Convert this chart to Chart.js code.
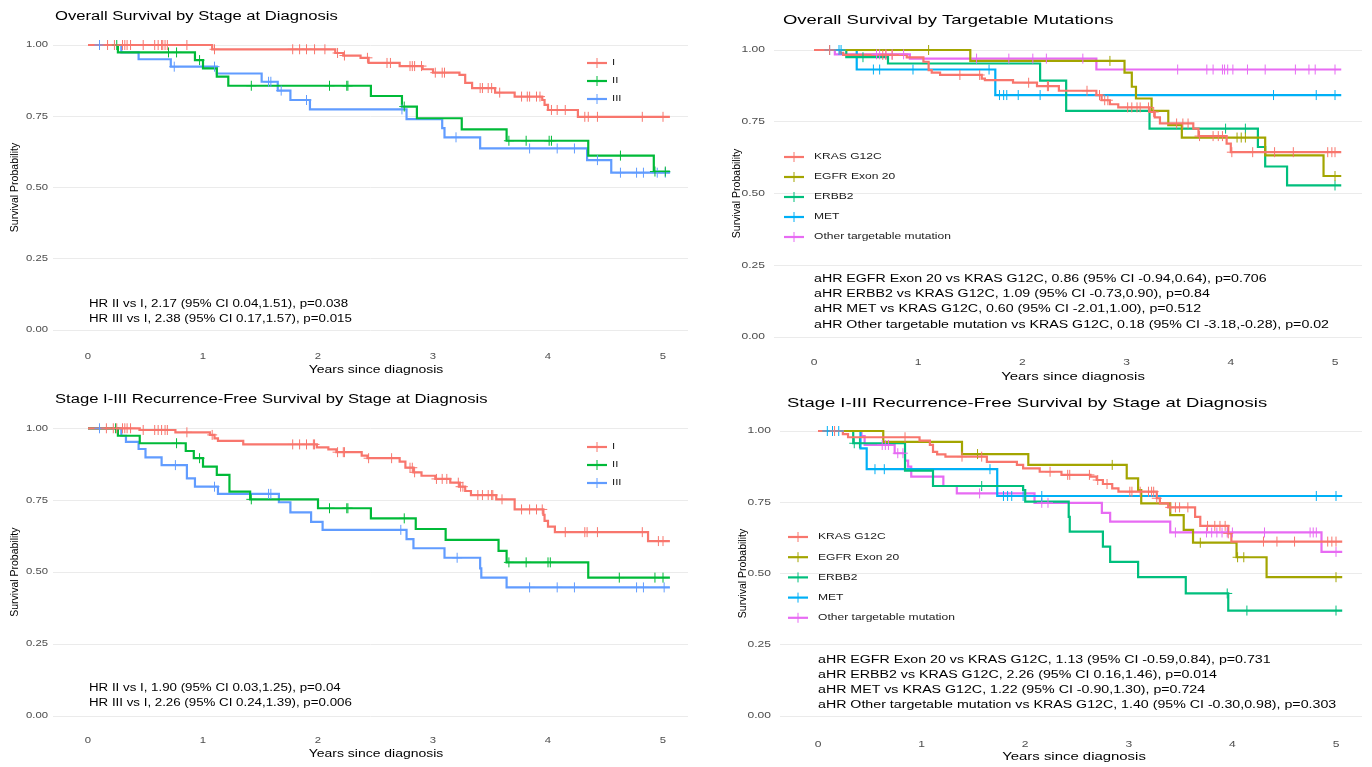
<!DOCTYPE html>
<html><head><meta charset="utf-8">
<script src="https://cdn.jsdelivr.net/npm/chart.js@4.4.1/dist/chart.umd.min.js"></script>
<style>
html,body{margin:0;padding:0;background:#fff;width:1372px;height:767px;overflow:hidden;}
canvas{position:absolute;}
</style></head><body>
<canvas id="c1"></canvas><canvas id="c2"></canvas><canvas id="c3"></canvas><canvas id="c4"></canvas>
<script>
// ---------------- DATA ----------------
const stageLabels = ['I', 'II', 'III'];
const mutLabels = ['KRAS G12C', 'EGFR Exon 20', 'ERBB2', 'MET', 'Other targetable mutation'];
const xTicks = [0, 1, 2, 3, 4, 5];
const xTickLabels = ['0', '1', '2', '3', '4', '5'];
const yTicks = [0, 0.25, 0.5, 0.75, 1];
const yTickLabels = ['0.00', '0.25', '0.50', '0.75', '1.00'];

// Panel 1: Overall survival by stage
const p1I_t = [0, 1.08, 2.15, 2.22, 2.37, 2.44, 2.71, 2.91, 3.0, 3.23, 3.28, 3.34, 3.54, 3.71, 3.95, 3.97, 4.0, 4.26, 5.06];
const p1I_s = [1, 0.985, 0.972, 0.963, 0.955, 0.937, 0.926, 0.915, 0.903, 0.895, 0.867, 0.849, 0.833, 0.819, 0.807, 0.79, 0.772, 0.748, 0.748];
const p1I_c = [0.17, 0.23, 0.3, 0.32, 0.34, 0.37, 0.48, 0.58, 0.61, 0.64, 0.65, 0.67, 0.69, 0.86, 1.1, 1.78, 1.84, 1.9, 1.97, 2.06, 2.17, 2.23, 2.43, 2.6, 2.63, 2.8, 2.82, 2.84, 2.9, 3.02, 3.08, 3.1, 3.41, 3.43, 3.48, 3.51, 3.58, 3.77, 3.82, 3.84, 3.9, 3.93, 4.03, 4.08, 4.15, 4.32, 4.35, 4.43, 4.82, 5.0];
const p1II_t = [0, 0.26, 0.93, 1.0, 1.12, 1.22, 2.46, 2.73, 2.86, 3.25, 3.64, 4.35, 4.92, 5.06];
const p1II_s = [1, 0.974, 0.947, 0.918, 0.889, 0.857, 0.821, 0.784, 0.743, 0.704, 0.664, 0.612, 0.556, 0.556];
const p1II_c = [0.25, 0.7, 0.77, 0.97, 1.42, 2.1, 2.25, 2.26, 2.75, 3.66, 3.81, 4.01, 4.03, 4.63, 4.93, 5.02];
const p1III_t = [0, 0.29, 0.44, 0.72, 1.12, 1.51, 1.65, 1.76, 1.93, 2.77, 3.08, 3.1, 3.41, 4.34, 4.55, 5.06];
const p1III_s = [1, 0.974, 0.95, 0.924, 0.9, 0.871, 0.84, 0.807, 0.774, 0.74, 0.708, 0.676, 0.637, 0.596, 0.552, 0.552];
const p1III_c = [0.1, 0.75, 1.1, 1.57, 1.59, 1.68, 1.9, 2.73, 3.2, 3.84, 4.08, 4.23, 4.43, 4.63, 4.77, 4.83, 4.95, 5.02];

// Panel 2: Overall survival by targetable mutation
const p2KRAS_t = [0, 0.25, 0.28, 0.89, 1.05, 1.1, 1.13, 1.21, 1.61, 1.64, 1.91, 2.14, 2.35, 2.71, 2.76, 2.84, 2.92, 3.22, 3.27, 3.32, 3.64, 3.69, 3.96, 4.0, 5.06];
const p2KRAS_s = [1, 0.99, 0.983, 0.974, 0.959, 0.93, 0.921, 0.913, 0.9, 0.895, 0.886, 0.874, 0.858, 0.843, 0.825, 0.811, 0.8, 0.784, 0.765, 0.744, 0.726, 0.7, 0.674, 0.644, 0.644];
const p2KRAS_c = [0.15, 0.66, 0.69, 0.75, 1.4, 1.59, 2.06, 2.24, 2.25, 2.62, 2.74, 2.79, 2.82, 3.01, 3.05, 3.1, 3.13, 3.21, 3.26, 3.48, 3.54, 3.59, 3.7, 3.83, 3.88, 3.92, 4.01, 4.21, 4.42, 4.6, 4.93, 4.97, 5.0];
const p2EGFR_t = [0, 1.5, 2.98, 3.05, 3.09, 3.24, 3.4, 3.53, 4.33, 4.89, 5.06];
const p2EGFR_s = [1, 0.962, 0.921, 0.872, 0.831, 0.788, 0.738, 0.695, 0.633, 0.561, 0.561];
const p2EGFR_c = [1.1, 2.84, 4.06, 4.1, 4.14, 5.0];
const p2ERBB2_t = [0, 0.31, 0.71, 2.17, 2.42, 3.22, 4.26, 4.33, 4.54, 5.06];
const p2ERBB2_s = [1, 0.975, 0.953, 0.893, 0.788, 0.726, 0.662, 0.594, 0.528, 0.528];
const p2ERBB2_c = [0.47, 3.95, 4.14, 5.0];
const p2MET_t = [0, 0.41, 1.74, 5.06];
const p2MET_s = [1, 0.932, 0.843, 0.843];
const p2MET_c = [0.15, 0.24, 0.26, 0.57, 0.63, 0.95, 1.68, 1.78, 1.82, 1.85, 1.96, 2.17, 4.41, 4.82, 5.0];
const p2OTH_t = [0, 0.2, 0.92, 2.71, 5.06];
const p2OTH_s = [1, 0.985, 0.97, 0.932, 0.932];
const p2OTH_c = [0.6, 0.63, 0.69, 0.75, 0.86, 1.56, 1.87, 2.1, 2.23, 2.58, 3.49, 3.77, 3.83, 3.92, 3.94, 3.97, 4.02, 4.16, 4.33, 4.62, 4.75, 4.81, 5.0];

// Panel 3: Recurrence-free survival by stage
const p3I_t = [0, 0.45, 0.76, 1.06, 1.1, 1.13, 1.35, 1.99, 2.09, 2.16, 2.38, 2.43, 2.71, 2.76, 2.83, 2.9, 3.02, 3.15, 3.23, 3.28, 3.33, 3.55, 3.71, 3.96, 3.97, 4.0, 4.06, 4.87, 5.06];
const p3I_s = [1, 0.994, 0.986, 0.977, 0.965, 0.956, 0.944, 0.934, 0.927, 0.917, 0.905, 0.896, 0.884, 0.863, 0.847, 0.835, 0.824, 0.811, 0.797, 0.782, 0.768, 0.753, 0.718, 0.699, 0.678, 0.658, 0.639, 0.608, 0.608];
const p3I_c = [0.16, 0.22, 0.25, 0.3, 0.32, 0.34, 0.37, 0.48, 0.58, 0.61, 0.64, 0.67, 0.69, 0.86, 1.08, 1.78, 1.84, 1.9, 1.96, 1.97, 2.17, 2.22, 2.23, 2.44, 2.64, 2.8, 2.82, 2.84, 3.03, 3.08, 3.12, 3.22, 3.24, 3.26, 3.39, 3.43, 3.48, 3.51, 3.52, 3.6, 3.77, 3.84, 3.9, 3.95, 4.15, 4.32, 4.34, 4.43, 4.82, 4.96, 5.0];
const p3II_t = [0, 0.26, 0.45, 0.85, 0.92, 1.0, 1.12, 1.23, 1.41, 2.0, 2.46, 2.85, 3.11, 3.57, 3.64, 4.35, 5.06];
const p3II_s = [1, 0.974, 0.948, 0.921, 0.896, 0.867, 0.838, 0.78, 0.753, 0.722, 0.687, 0.65, 0.612, 0.574, 0.534, 0.481, 0.481];
const p3II_c = [0.24, 0.77, 0.97, 1.42, 2.1, 2.25, 2.26, 2.75, 3.66, 3.81, 4.0, 4.02, 4.62, 4.93, 5.0];
const p3III_t = [0, 0.29, 0.33, 0.44, 0.5, 0.64, 0.86, 0.93, 1.13, 1.66, 1.76, 1.94, 2.04, 2.77, 2.83, 3.1, 3.41, 3.42, 3.64, 5.06];
const p3III_s = [1, 0.974, 0.953, 0.928, 0.899, 0.872, 0.826, 0.797, 0.772, 0.743, 0.708, 0.675, 0.647, 0.615, 0.583, 0.55, 0.513, 0.481, 0.447, 0.447];
const p3III_c = [0.1, 0.76, 1.1, 1.57, 1.59, 2.72, 3.21, 3.84, 4.08, 4.23, 4.77, 4.83, 5.01];

// Panel 4: Recurrence-free survival by targetable mutation
const p4KRAS_t = [0, 0.24, 0.29, 0.98, 1.08, 1.11, 1.15, 1.23, 1.63, 1.92, 1.98, 2.14, 2.35, 2.63, 2.69, 2.75, 2.84, 2.9, 3.27, 3.3, 3.38, 3.64, 3.69, 3.96, 3.99, 5.06];
const p4KRAS_s = [1, 0.989, 0.978, 0.966, 0.951, 0.927, 0.918, 0.91, 0.892, 0.881, 0.869, 0.857, 0.846, 0.84, 0.828, 0.814, 0.799, 0.787, 0.764, 0.746, 0.732, 0.699, 0.667, 0.641, 0.612, 0.612];
const p4KRAS_c = [0.16, 0.84, 1.39, 1.58, 2.24, 2.41, 2.43, 2.62, 2.7, 2.79, 3.01, 3.03, 3.11, 3.19, 3.22, 3.24, 3.27, 3.4, 3.45, 3.49, 3.57, 3.76, 3.83, 3.88, 3.93, 3.96, 4.3, 4.43, 4.6, 4.92, 4.96, 5.0];
const p4EGFR_t = [0, 0.63, 1.39, 2.03, 2.98, 3.09, 3.12, 3.4, 3.53, 3.62, 4.04, 4.33, 5.06];
const p4EGFR_s = [1, 0.962, 0.919, 0.881, 0.834, 0.793, 0.746, 0.705, 0.653, 0.608, 0.557, 0.487, 0.487];
const p4EGFR_c = [1.54, 2.84, 3.69, 4.05, 4.11, 5.0];
const p4ERBB2_t = [0, 0.34, 0.84, 1.11, 1.98, 2.0, 2.42, 2.43, 2.75, 2.82, 3.09, 3.55, 3.96, 5.06];
const p4ERBB2_s = [1, 0.957, 0.861, 0.807, 0.793, 0.752, 0.699, 0.647, 0.594, 0.541, 0.487, 0.43, 0.37, 0.37];
const p4ERBB2_c = [0.35, 0.4, 1.58, 3.95, 4.14, 5.0];
const p4MET_t = [0, 0.41, 0.47, 1.73, 5.06];
const p4MET_s = [1, 0.939, 0.866, 0.772, 0.772];
const p4MET_c = [0.09, 0.14, 0.2, 0.55, 0.64, 1.66, 1.79, 1.83, 1.87, 1.98, 2.16, 4.81, 5.0];
const p4OTH_t = [0, 0.42, 0.45, 0.74, 0.84, 0.87, 0.9, 1.21, 1.34, 2.09, 2.74, 2.82, 3.4, 4.86, 5.06];
const p4OTH_s = [1, 0.982, 0.951, 0.922, 0.896, 0.875, 0.84, 0.807, 0.781, 0.748, 0.713, 0.682, 0.644, 0.576, 0.576];
const p4OTH_c = [0.62, 0.65, 0.68, 0.77, 0.82, 1.56, 2.16, 2.22, 3.45, 3.75, 3.8, 3.85, 3.9, 3.95, 4.0, 4.31, 4.75, 4.78, 4.81, 5.0];

// Texts
const titles = [
  'Overall Survival by Stage at Diagnosis',
  'Overall Survival by Targetable Mutations',
  'Stage I-III Recurrence-Free Survival by Stage at Diagnosis',
  'Stage I-III Recurrence-Free Survival by Stage at Diagnosis'
];
const p1Annot = ['HR II vs I, 2.17 (95% CI 0.04,1.51), p=0.038', 'HR III vs I, 2.38 (95% CI 0.17,1.57), p=0.015'];
const p2Annot = ['aHR EGFR Exon 20 vs KRAS G12C, 0.86 (95% CI -0.94,0.64), p=0.706', 'aHR ERBB2 vs KRAS G12C, 1.09 (95% CI -0.73,0.90), p=0.84', 'aHR MET vs KRAS G12C, 0.60 (95% CI -2.01,1.00), p=0.512', 'aHR Other targetable mutation vs KRAS G12C, 0.18 (95% CI -3.18,-0.28), p=0.02'];
const p3Annot = ['HR II vs I, 1.90 (95% CI 0.03,1.25), p=0.04', 'HR III vs I, 2.26 (95% CI 0.24,1.39), p=0.006'];
const p4Annot = ['aHR EGFR Exon 20 vs KRAS G12C, 1.13 (95% CI -0.59,0.84), p=0.731', 'aHR ERBB2 vs KRAS G12C, 2.26 (95% CI 0.16,1.46), p=0.014', 'aHR MET vs KRAS G12C, 1.22 (95% CI -0.90,1.30), p=0.724', 'aHR Other targetable mutation vs KRAS G12C, 1.40 (95% CI -0.30,0.98), p=0.303'];
const xTitle = 'Years since diagnosis';
const yTitle = 'Survival Probability';

// ---------------- STYLE / LAYOUT ----------------
const COL3 = ['#F8766D', '#00BA38', '#619CFF'];
const COL5 = ['#F8766D', '#A3A500', '#00BF7D', '#00B0F6', '#E76BF3'];
const FONT = '"Liberation Sans", Arial, Helvetica, sans-serif';

const panels = [
  { id: 'c1', L: 0, T: 0, W: 720, H: 383, area: { l: 53, r: 688, t: 30.75, b: 344.25 }, x0: 88, ppy: 115, sx: 1.33,
    title: titles[0], titleX: 55, titleY: 17, titleSize: 12.5,
    labels: stageLabels, colors: COL3,
    series: [[p1I_t, p1I_s, p1I_c], [p1II_t, p1II_s, p1II_c], [p1III_t, p1III_s, p1III_c]],
    annot: p1Annot, annotX: 89, annotY: 304, annotDY: 15,
    legX: 587, legTextX: 612, legY: 63, legDY: 18,
    xTickY: 357, xTitleX: 376, xTitleY: 370, yTitleX: 15, yTickR: 48 },
  { id: 'c2', L: 720, T: 0, W: 652, H: 383, area: { l: 774, r: 1362, t: 35.65, b: 351.35 }, x0: 814, ppy: 104.2, sx: 1.42,
    title: titles[1], titleX: 783, titleY: 20, titleSize: 13,
    labels: mutLabels, colors: COL5,
    series: [[p2KRAS_t, p2KRAS_s, p2KRAS_c], [p2EGFR_t, p2EGFR_s, p2EGFR_c], [p2ERBB2_t, p2ERBB2_s, p2ERBB2_c], [p2MET_t, p2MET_s, p2MET_c], [p2OTH_t, p2OTH_s, p2OTH_c]],
    annot: p2Annot, annotX: 814, annotY: 279, annotDY: 15.3,
    legX: 784, legTextX: 814, legY: 157, legDY: 20,
    xTickY: 363, xTitleX: 1073, xTitleY: 377, yTitleX: 737, yTickR: 765 },
  { id: 'c3', L: 0, T: 383, W: 720, H: 384, area: { l: 53, r: 688, t: 413.9, b: 730.4 }, x0: 88, ppy: 115, sx: 1.33,
    title: titles[2], titleX: 55, titleY: 400, titleSize: 12.5,
    labels: stageLabels, colors: COL3,
    series: [[p3I_t, p3I_s, p3I_c], [p3II_t, p3II_s, p3II_c], [p3III_t, p3III_s, p3III_c]],
    annot: p3Annot, annotX: 89, annotY: 688, annotDY: 15,
    legX: 587, legTextX: 612, legY: 447, legDY: 18,
    xTickY: 741, xTitleX: 376, xTitleY: 754, yTitleX: 15, yTickR: 48 },
  { id: 'c4', L: 720, T: 383, W: 652, H: 384, area: { l: 780, r: 1362, t: 416.75, b: 730.25 }, x0: 818, ppy: 103.6, sx: 1.42,
    title: titles[3], titleX: 787, titleY: 403, titleSize: 13,
    labels: mutLabels, colors: COL5,
    series: [[p4KRAS_t, p4KRAS_s, p4KRAS_c], [p4EGFR_t, p4EGFR_s, p4EGFR_c], [p4ERBB2_t, p4ERBB2_s, p4ERBB2_c], [p4MET_t, p4MET_s, p4MET_c], [p4OTH_t, p4OTH_s, p4OTH_c]],
    annot: p4Annot, annotX: 818, annotY: 660, annotDY: 15,
    legX: 788, legTextX: 818, legY: 537, legDY: 20.2,
    xTickY: 745, xTitleX: 1074, xTitleY: 757, yTitleX: 743, yTickR: 771 }
];

function stepAt(t, s, x) {
  let v = s[0];
  for (let i = 0; i < t.length; i++) { if (t[i] <= x) v = s[i]; else break; }
  return v;
}

function txt(ctx, s, x, y, size, sx, align, color) {
  ctx.save();
  ctx.font = size + 'px ' + FONT;
  ctx.fillStyle = color;
  ctx.textBaseline = 'middle';
  ctx.textAlign = align;
  ctx.translate(x, y);
  ctx.scale(sx, 1);
  ctx.fillText(s, 0, 0);
  ctx.restore();
}

function makeDeco(p) {
  return {
    id: 'deco' + p.id,
    afterDraw(chart) {
      const ctx = chart.ctx;
      const ox = p.L, oy = p.T;
      const xs = chart.scales.x, ys = chart.scales.y;
      // title
      txt(ctx, p.title, p.titleX - ox, p.titleY - oy, p.titleSize, p.sx, 'left', '#000');
      // tick labels, placed through the scales
      xTicks.forEach((v, i) => txt(ctx, xTickLabels[i], xs.getPixelForValue(v), p.xTickY - oy, 8.5, p.sx, 'center', '#4D4D4D'));
      yTicks.forEach((v, i) => txt(ctx, yTickLabels[i], p.yTickR - ox, ys.getPixelForValue(v), 8.5, p.sx, 'right', '#4D4D4D'));
      // axis titles
      txt(ctx, xTitle, p.xTitleX - ox, p.xTitleY - oy, 10.5, p.sx, 'center', '#000');
      ctx.save();
      ctx.translate(p.yTitleX - ox, (chart.chartArea.top + chart.chartArea.bottom) / 2);
      ctx.rotate(-Math.PI / 2);
      ctx.font = '10.5px ' + FONT;
      ctx.fillStyle = '#000';
      ctx.textAlign = 'center';
      ctx.textBaseline = 'middle';
      ctx.fillText(yTitle, 0, 0);
      ctx.restore();
      // annotations
      p.annot.forEach((s, i) => txt(ctx, s, p.annotX - ox, p.annotY + i * p.annotDY - oy, 10, p.sx, 'left', '#000'));
      // legend
      p.labels.forEach((lab, i) => {
        const y = p.legY + i * p.legDY - oy;
        const x1 = p.legX - ox, x2 = x1 + 20;
        ctx.save();
        ctx.strokeStyle = p.colors[i];
        ctx.lineWidth = 2.2;
        ctx.beginPath(); ctx.moveTo(x1, y); ctx.lineTo(x2, y); ctx.stroke();
        ctx.lineWidth = 1;
        ctx.beginPath(); ctx.moveTo((x1 + x2) / 2, y - 5); ctx.lineTo((x1 + x2) / 2, y + 5); ctx.stroke();
        ctx.restore();
        txt(ctx, lab, p.legTextX - ox, y, 8.5, p.sx, 'left', '#1a1a1a');
      });
    }
  };
}

panels.forEach(p => {
  const cv = document.getElementById(p.id);
  cv.width = p.W; cv.height = p.H;
  cv.style.left = p.L + 'px'; cv.style.top = p.T + 'px';
  cv.style.width = p.W + 'px'; cv.style.height = p.H + 'px';
  const datasets = [];
  p.series.forEach((sr, i) => {
    const [t, s, c] = sr;
    datasets.push({
      label: p.labels[i],
      data: t.map((x, k) => ({ x: x, y: s[k] })),
      showLine: true, stepped: true,
      borderColor: p.colors[i], borderWidth: 2.2,
      pointRadius: 0, fill: false, order: 1
    });
    datasets.push({
      label: p.labels[i] + ' (censored)',
      data: c.map(x => ({ x: x, y: stepAt(t, s, x) })),
      showLine: false, pointStyle: 'cross', pointRadius: 5,
      pointBorderWidth: 1, borderColor: p.colors[i], backgroundColor: p.colors[i], order: 0
    });
  });
  const xmin = (p.area.l - p.x0) / p.ppy, xmax = (p.area.r - p.x0) / p.ppy;
  new Chart(cv, {
    type: 'scatter',
    data: { datasets },
    options: {
      responsive: false, animation: false, devicePixelRatio: 1, events: [],
      layout: { padding: { left: 0, top: p.area.t - p.T, right: (p.L + p.W) - p.area.r, bottom: 0 } },
      plugins: { legend: { display: false }, tooltip: { enabled: false }, title: { display: false } },
      scales: {
        x: {
          type: 'linear', min: xmin, max: xmax,
          afterBuildTicks: sc => { sc.ticks = xTicks.map(v => ({ value: v })); },
          afterFit: sc => { sc.height = (p.T + p.H) - p.area.b; },
          ticks: { display: false },
          grid: { display: false }, border: { display: false }
        },
        y: {
          type: 'linear', min: -0.05, max: 1.05,
          afterBuildTicks: sc => { sc.ticks = yTicks.map(v => ({ value: v })); },
          afterFit: sc => { sc.width = p.area.l - p.L; },
          ticks: { display: false },
          grid: { color: '#EBEBEB', lineWidth: 1, drawTicks: false }, border: { display: false }
        }
      }
    },
    plugins: [makeDeco(p)]
  });
});
</script>
</body></html>
